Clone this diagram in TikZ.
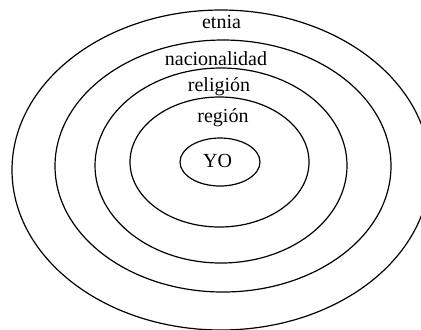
\documentclass[tikz,border=0pt]{standalone}
\usepackage{fontspec}
\setmainfont{Liberation Serif}
\begin{document}
\begin{tikzpicture}[x=0.5pt,y=-0.5pt,ring/.style={line width=0.6pt},lbl/.style={anchor=base,inner sep=0pt,font=\fontsize{10}{12}\selectfont}]
        \clip (0,0) rectangle (421,329);
        \draw[ring] (221,170) ellipse [x radius=209,y radius=160];
        \draw[ring] (223,166) ellipse [x radius=168,y radius=126];
        \draw[ring] (221,165.5) ellipse [x radius=126,y radius=97.5];
        \draw[ring] (219.5,162) ellipse [x radius=89.5,y radius=65];
        \draw[ring] (220,162) ellipse [x radius=40,y radius=24];
        \node[lbl] (etnia) at (221.5,28) {etnia};
        \node[lbl] (nacionalidad) at (216,65.5) {nacionalidad};
        \node[lbl] (religion) at (219,91.5) {religión};
        \node[lbl] (region) at (223,122) {región};
        \node[lbl] (yo) at (217.5,167) {YO};
    \end{tikzpicture}
\end{document}
